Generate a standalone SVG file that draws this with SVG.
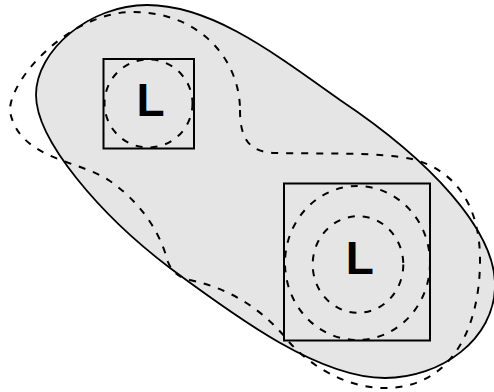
<svg xmlns="http://www.w3.org/2000/svg" width="494" height="392" viewBox="0 0 494 392">
  <style>
    .blob { fill: #e5e5e5; stroke: #000; stroke-width: 1.8; }
    .dash { fill: none; stroke: #000; stroke-width: 2; stroke-dasharray: 7 8; }
    .box { fill: none; stroke: #000; stroke-width: 2; }
    .lbl { font-family: "Liberation Sans", Arial, sans-serif; font-weight: bold; font-size: 46px; text-anchor: middle; fill: #000; }
  </style>
  <rect width="494" height="392" fill="#fff"/>
  <g id="region">
    <path class="blob" d="M 147,5 C 90,5 36,50 36,95 C 36,140 100,215 170,268 C 240,320 320,378 385,378 C 440,378 495,340 495,285 C 495,230 430,160 340,100 C 270,50 210,5 147,5 Z"/>
  </g>
  <g id="contour">
    <path class="dash" d="M 240,110 C 240,140 250,152 275,153 C 320,154 380,152 412,159 C 455,170 480,205 480,260 C 480,330 450,388 385,388 C 345,388 310,365 290,343 C 265,312 235,290 190,280 C 178,277 172,272 168,262 C 162,240 148,208 110,181 C 80,160 20,160 10,112 C 8,80 70,12 133,12 C 200,12 240,60 240,110 Z"/>
  </g>
  <g id="low1">
    <rect class="box" x="103.5" y="59" width="90.5" height="89.5"/>
    <circle class="dash" cx="148.5" cy="103.5" r="44"/>
    <text class="lbl" x="150.5" y="116">L</text>
  </g>
  <g id="low2">
    <rect class="box" x="284" y="183.5" width="146" height="157"/>
    <ellipse class="dash" cx="357.5" cy="263" rx="72.5" ry="77"/>
    <ellipse class="dash" cx="358" cy="264.5" rx="45.3" ry="48.3"/>
    <text class="lbl" x="359.7" y="273.5">L</text>
  </g>
</svg>
